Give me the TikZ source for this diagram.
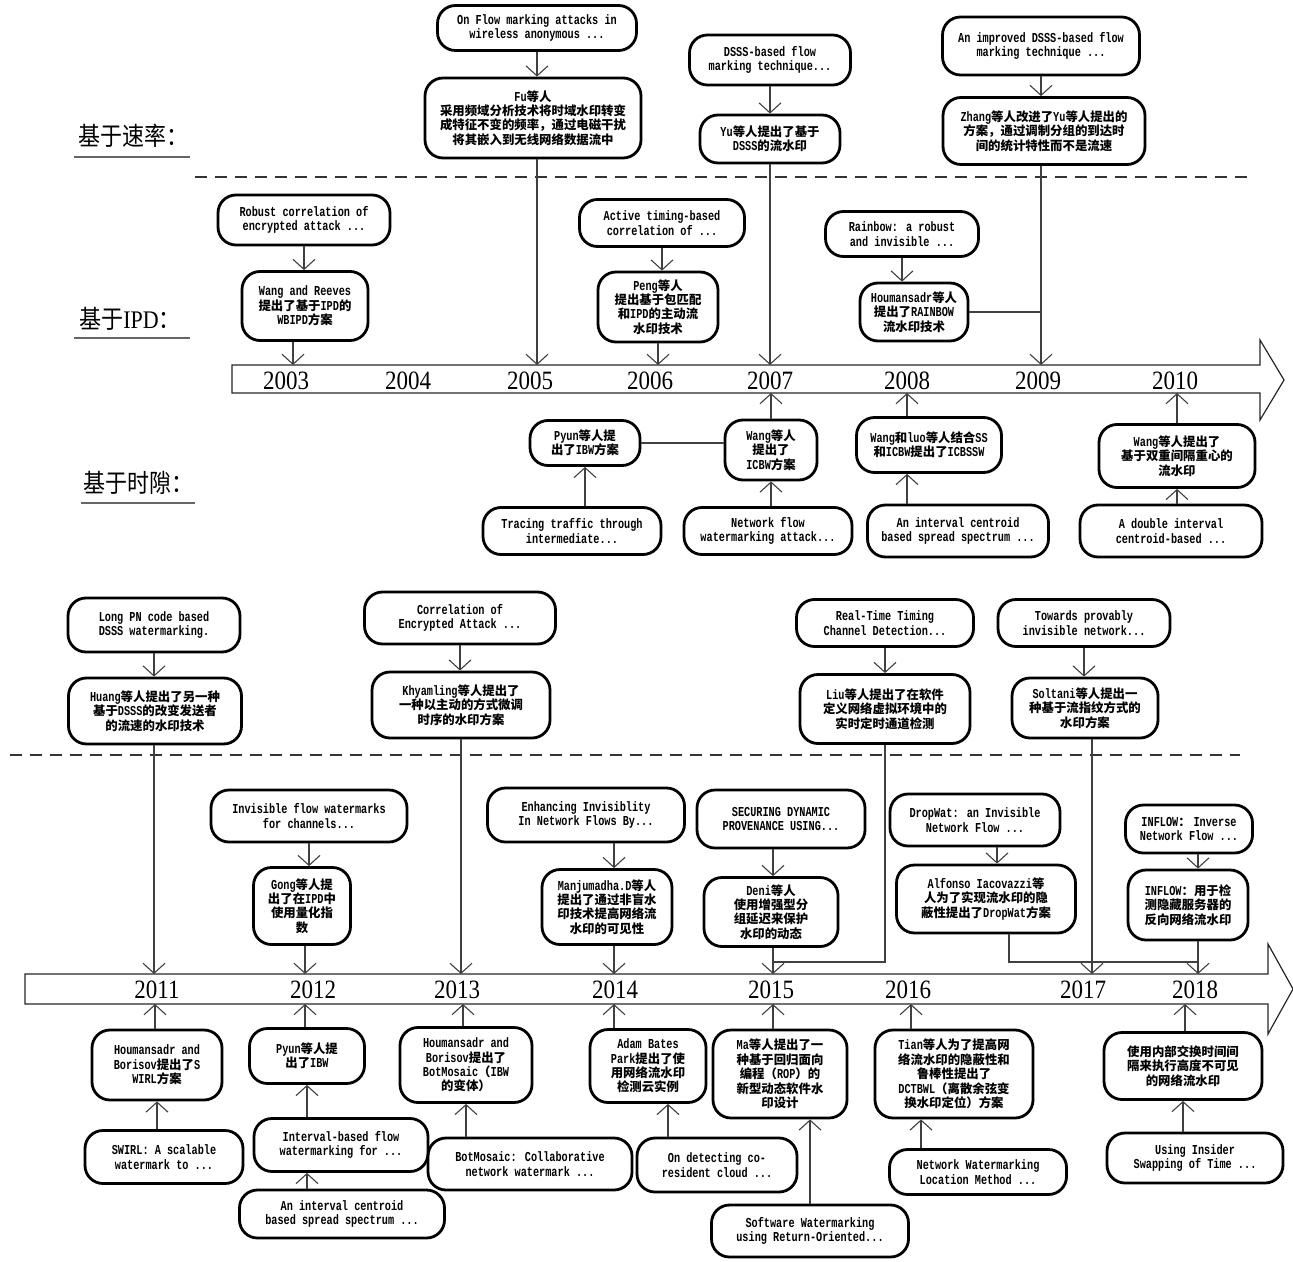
\documentclass[tikz,border=0pt]{standalone}
\usepackage{fontspec}
\usepackage{graphicx}
\setmainfont{Liberation Serif}
\newfontfamily\cjkfont{Noto Sans CJK SC}
\newfontfamily\boxlatin{Liberation Mono}[Scale=1.1, FakeStretch=0.75]
\usetikzlibrary{arrows.meta}

% switch between Latin and CJK fonts
\XeTeXinterchartokenstate=1
\newXeTeXintercharclass\cjkclass
\newcount\cjkcode
\newcommand\cjkrange[2]{%
  \cjkcode=#1\relax
  \loop
    \XeTeXcharclass\cjkcode=\cjkclass
  \ifnum\cjkcode<#2\relax
    \advance\cjkcode by 1
  \repeat}
\cjkrange{"3000}{"303F}
\cjkrange{"4E00}{"9FFF}
\cjkrange{"FF00}{"FFEF}
\def\latinfont{}
\XeTeXinterchartoks 0 \cjkclass = {\cjkfont}
\XeTeXinterchartoks 4095 \cjkclass = {\cjkfont}
\XeTeXinterchartoks \cjkclass 0 = {\latinfont}
\XeTeXinterchartoks 4095 0 = {\latinfont}

\newcommand\boxfont{\def\latinfont{\boxlatin}\boxlatin\bfseries\fontsize{6.2}{7.2}\selectfont}
\newcommand\catfont{\def\latinfont{\rmfamily}\rmfamily\fontsize{11}{13}\selectfont}
\newcommand\yearfont{\rmfamily\fontsize{11.5}{13}\selectfont}

\begin{document}
\begin{tikzpicture}[x=0.5pt, y=-0.5pt,
  pbox/.style={draw, line width=1.4pt, rounded corners=9pt, align=center,
    font=\boxfont, inner sep=1pt},
  sz/.style 2 args={minimum width=#1*0.5pt, minimum height=#2*0.5pt},
  arr/.style={draw=black!75, line width=0.55pt,
    -{Straight Barb[length=5pt, width=11pt]}},
  link/.style={draw=black!75, line width=0.55pt},
  catlbl/.style={font=\catfont, inner sep=0pt},
  yearlbl/.style={font=\yearfont, inner sep=0pt},
  axisline/.style={draw=black!85, line width=0.6pt},
  divider/.style={draw=black!80, line width=0.6pt, dash pattern=on 6pt off 4pt},
  ulbar/.style={draw=black!60, line width=0.8pt}]
\useasboundingbox (0,0) rectangle (1293,1261);

% arrival points on the two time axes
\coordinate (a03) at (293,365);
\coordinate (a05) at (537,365);
\coordinate (a06) at (658,365);
\coordinate (a07) at (770,365);
\coordinate (a09) at (1041,365);
\coordinate (b07) at (771,393);
\coordinate (b08) at (907,393);
\coordinate (b10) at (1177,393);
\coordinate (c11) at (154,974);
\coordinate (c12) at (305,974);
\coordinate (c13) at (461,974);
\coordinate (c14) at (614,974);
\coordinate (c15) at (773,974);
\coordinate (c17) at (1092,974);
\coordinate (c18) at (1198,974);
\coordinate (d11) at (155,1004);
\coordinate (d12) at (305,1004);
\coordinate (d13) at (463,1004);
\coordinate (d14) at (614,1004);
\coordinate (d15) at (773,1004);
\coordinate (d16) at (911,1004);
\coordinate (d18) at (1185,1004);
\coordinate (j15) at (773,962);
\coordinate (rjoin) at (1009,962);
\coordinate (j18) at (1198,962);
\coordinate (rdn) at (997,850);
\coordinate (wup) at (668,1120);
\coordinate (yup) at (921,1130);

% category labels
\node[catlbl] (rate) at (133,136) {\scalebox{1}[1.15]{基于速率：}};
\node[catlbl] (ipd) at (130,319) {\scalebox{1}[1.15]{基于IPD：}};
\node[catlbl] (slot) at (138,483) {\scalebox{1}[1.15]{基于时隙：}};
\draw[ulbar] (74,157) -- (190,157);
\draw[ulbar] (74,338) -- (190,338);
\draw[ulbar] (81,503) -- (195,503);

\draw[divider] (195,177) -- (1250,177);
\draw[divider] (10,755) -- (1240,755);

% time axes
\draw[axisline] (232,365) -- (1260,365) -- (1260,340) -- (1284,380)
  -- (1260,420) -- (1260,393) -- (232,393) -- cycle;
\draw[axisline] (25,974) -- (1268,974) -- (1268,944) -- (1293,989)
  -- (1268,1034) -- (1268,1004) -- (25,1004) -- cycle;

\foreach \yx/\yv in {286/2003, 408/2004, 530/2005, 650/2006, 770/2007,
    907/2008, 1038/2009, 1175/2010}
  \node[yearlbl] (y\yv) at (\yx,381) {\scalebox{1}[1.15]{\yv}};
\foreach \yx/\yv in {157/2011, 313/2012, 457/2013, 615/2014, 771/2015,
    908/2016, 1083/2017, 1195/2018}
  \node[yearlbl] (y\yv) at (\yx,990) {\scalebox{1}[1.15]{\yv}};

% rate based, 2003-2010
\node[pbox, sz={199}{45}] (A1) at (537,28) {On Flow marking attacks in\\wireless anonymous ...};
\node[pbox, sz={216}{80}] (A2) at (533,118) {Fu等人\\采用频域分析技术将时域水印转变\\成特征不变的频率，通过电磁干扰\\将其嵌入到无线网络数据流中};
\node[pbox, sz={161}{50}] (B1) at (770,60) {DSSS-based flow\\marking technique...};
\node[pbox, sz={140}{48}] (B2) at (770,139) {Yu等人提出了基于\\DSSS的流水印};
\node[pbox, sz={197}{58}] (C1) at (1041,46) {An improved DSSS-based flow\\marking technique ...};
\node[pbox, sz={202}{67}] (C2) at (1044,131) {Zhang等人改进了Yu等人提出的\\方案，通过调制分组的到达时\\间的统计特性而不是流速};

% IPD based, 2003-2010
\node[pbox, sz={172}{50}] (D1) at (304,220) {Robust correlation of\\encrypted attack ...};
\node[pbox, sz={126}{69}] (D2) at (305,306) {Wang and Reeves\\提出了基于IPD的\\WBIPD方案};
\node[pbox, sz={165}{47}] (E1) at (662,223) {Active timing-based\\correlation of ...};
\node[pbox, sz={120}{70}] (E2) at (658,307) {Peng等人\\提出基于包匹配\\和IPD的主动流\\水印技术};
\node[pbox, sz={153}{45}] (F1) at (902,234) {Rainbow: a robust\\and invisible ...};
\node[pbox, sz={108}{58}] (F2) at (914,312) {Houmansadr等人\\提出了RAINBOW\\流水印技术};

% slot based, 2003-2010
\node[pbox, sz={110}{45}] (G2) at (585,443) {Pyun等人提\\出了IBW方案};
\node[pbox, sz={178}{47}] (G1) at (572,531) {Tracing traffic through\\intermediate...};
\node[pbox, sz={92}{60}] (H2) at (771,450) {Wang等人\\提出了\\ICBW方案};
\node[pbox, sz={168}{47}] (H1) at (768,531) {Network flow\\watermarking attack...};
\node[pbox, sz={145}{55}] (I2) at (929,445) {Wang和luo等人结合SS\\和ICBW提出了ICBSSW};
\node[pbox, sz={181}{52}] (I1) at (958,531) {An interval centroid\\based spread spectrum ...};
\node[pbox, sz={156}{63}] (J2) at (1177,456) {Wang等人提出了\\基于双重间隔重心的\\流水印};
\node[pbox, sz={182}{52}] (J1) at (1171,531) {A double interval\\centroid-based ...};

% rate based, 2011-2018
\node[pbox, sz={172}{54}] (K1) at (154,625) {Long PN code based\\DSSS watermarking.};
\node[pbox, sz={173}{66}] (K2) at (155,711) {Huang等人提出了另一种\\基于DSSS的改变发送者\\的流速的水印技术};
\node[pbox, sz={191}{52}] (L1) at (460,618) {Correlation of\\Encrypted Attack ...};
\node[pbox, sz={178}{66}] (L2) at (461,705) {Khyamling等人提出了\\一种以主动的方式微调\\时序的水印方案};
\node[pbox, sz={177}{47}] (M1) at (885,623) {Real-Time Timing\\Channel Detection...};
\node[pbox, sz={170}{69}] (M2) at (885,709) {Liu等人提出了在软件\\定义网络虚拟环境中的\\实时定时通道检测};
\node[pbox, sz={172}{47}] (N1) at (1084,623) {Towards provably\\invisible network...};
\node[pbox, sz={146}{60}] (N2) at (1085,708) {Soltani等人提出一\\种基于流指纹方式的\\水印方案};

% IPD based, 2011-2018
\node[pbox, sz={196}{52}] (O1) at (309,816) {Invisible flow watermarks\\for channels...};
\node[pbox, sz={97}{77}] (O2) at (302,906) {Gong等人提\\出了在IPD中\\使用量化指\\数};
\node[pbox, sz={197}{54}] (P1) at (586,815) {Enhancing Invisiblity\\In Network Flows By...};
\node[pbox, sz={130}{75}] (P2) at (607,907) {Manjumadha.D等人\\提出了通过非盲水\\印技术提高网络流\\水印的可见性};
\node[pbox, sz={168}{58}] (Q1) at (781,819) {SECURING DYNAMIC\\PROVENANCE USING...};
\node[pbox, sz={134}{69}] (Q2) at (771,912) {Deni等人\\使用增强型分\\组延迟来保护\\水印的动态};
\node[pbox, sz={170}{52}] (R1) at (975,820) {DropWat: an Invisible\\Network Flow ...};
\node[pbox, sz={179}{68}] (R2) at (986,899) {Alfonso Iacovazzi等\\人为了实现流水印的隐\\蔽性提出了DropWat方案};
\node[pbox, sz={127}{48}] (S1) at (1189,829) {INFLOW： Inverse\\Network Flow ...};
\node[pbox, sz={120}{70}] (S2) at (1188,905) {INFLOW：用于检\\测隐藏服务器的\\反向网络流水印};

% slot based, 2011-2018
\node[pbox, sz={130}{70}] (T2) at (157,1065) {Houmansadr and\\Borisov提出了S\\WIRL方案};
\node[pbox, sz={158}{53}] (T1) at (164,1157) {SWIRL: A scalable\\watermark to ...};
\node[pbox, sz={115}{55}] (U2) at (307,1056) {Pyun等人提\\出了IBW};
\node[pbox, sz={174}{53}] (U1) at (341,1145) {Interval-based flow\\watermarking for ...};
\node[pbox, sz={205}{48}] (U0) at (342,1214) {An interval centroid\\based spread spectrum ...};
\node[pbox, sz={132}{75}] (V2) at (466,1065) {Houmansadr and\\Borisov提出了\\BotMosaic（IBW\\的变体）};
\node[pbox, sz={204}{52}] (V1) at (530,1164) {BotMosaic: Collaborative\\network watermark ...};
\node[pbox, sz={116}{73}] (W2) at (648,1066) {Adam Bates\\Park提出了使\\用网络流水印\\检测云实例};
\node[pbox, sz={160}{54}] (W1) at (717,1165) {On detecting co-\\resident cloud ...};
\node[pbox, sz={134}{88}] (X2) at (780,1074) {Ma等人提出了一\\种基于回归面向\\编程（ROP）的\\新型动态软件水\\印设计};
\node[pbox, sz={197}{52}] (X1) at (810,1231) {Software Watermarking\\using Return-Oriented...};
\node[pbox, sz={158}{88}] (Y2) at (954,1074) {Tian等人为了提高网\\络流水印的隐蔽性和\\鲁棒性提出了\\DCTBWL（离散余弦变\\换水印定位）方案};
\node[pbox, sz={177}{45}] (Y1) at (978,1172) {Network Watermarking\\Location Method ...};
\node[pbox, sz={158}{67}] (Z2) at (1183,1066) {使用内部交换时间间\\隔来执行高度不可见\\的网络流水印};
\node[pbox, sz={176}{50}] (Z1) at (1195,1158) {Using Insider\\Swapping of Time ...};

% connectors, top half
\draw[arr] (A1) -- (A1 |- A2.north);
\draw[arr] (B1) -- (B1 |- B2.north);
\draw[arr] (C1) -- (C1 |- C2.north);
\draw[arr] (D1) -- (D1 |- D2.north);
\draw[arr] (E1) -- (E1 |- E2.north);
\draw[arr] (F1) -- (F1 |- F2.north);
\draw[arr] (A2.south -| a05) -- (a05);
\draw[arr] (B2.south -| a07) -- (a07);
\draw[arr] (C2.south -| a09) -- (a09);
\draw[arr] (D2.south -| a03) -- (a03);
\draw[arr] (E2.south -| a06) -- (a06);
\draw[link] (F2.east) -- (F2.east -| a09);
\draw[link] (G2.east) -- (G2.east -| H2.west);
\draw[arr] (G1.north -| G2) -- (G2);
\draw[arr] (H1.north -| H2) -- (H2);
\draw[arr] (I1.north -| b08) -- (I2.south -| b08);
\draw[arr] (J1.north -| J2) -- (J2);
\draw[arr] (H2.north -| b07) -- (b07);
\draw[arr] (I2.north -| b08) -- (b08);
\draw[arr] (J2.north -| b10) -- (b10);

% connectors, bottom half
\draw[arr] (K1) -- (K1 |- K2.north);
\draw[arr] (L1) -- (L1 |- L2.north);
\draw[arr] (M1) -- (M1 |- M2.north);
\draw[arr] (N1) -- (N1 |- N2.north);
\draw[arr] (O1) -- (O1 |- O2.north);
\draw[arr] (P1.south -| c14) -- (P2.north -| c14);
\draw[arr] (Q1.south -| c15) -- (Q2.north -| c15);
\draw[arr] (R1.south -| rdn) -- (R2.north -| rdn);
\draw[arr] (S1.south -| c18) -- (S2.north -| c18);
\draw[arr] (K2.south -| c11) -- (c11);
\draw[arr] (O2.south -| c12) -- (c12);
\draw[arr] (L2.south -| c13) -- (c13);
\draw[arr] (P2.south -| c14) -- (c14);
\draw[arr] (Q2.south -| c15) -- (c15);
\draw[arr] (N2.south -| c17) -- (c17);
\draw[arr] (S2.south -| c18) -- (c18);
\draw[link] (M2) -- (M2 |- j15) -- (j15);
\draw[link] (R2.south -| rjoin) -- (rjoin) -- (j18);

\draw[arr] (T1.north -| T2) -- (T2);
\draw[arr] (U1.north -| U2) -- (U2);
\draw[arr] (U0.north -| U2) -- (U1.south -| U2);
\draw[arr] (V1.north -| V2) -- (V2);
\draw[arr] (W1.north -| wup) -- (W2.south -| wup);
\draw[arr] (X1) -- (X1 |- X2.south);
\draw[arr] (Y1.north -| yup) -- (Y2.south -| yup);
\draw[arr] (Z1.north -| Z2) -- (Z2);
\draw[arr] (T2.north -| d11) -- (d11);
\draw[arr] (U2.north -| d12) -- (d12);
\draw[arr] (V2.north -| d13) -- (d13);
\draw[arr] (W2.north -| d14) -- (d14);
\draw[arr] (X2.north -| d15) -- (d15);
\draw[arr] (Y2.north -| d16) -- (d16);
\draw[arr] (Z2.north -| d18) -- (d18);
\end{tikzpicture}
\end{document}
